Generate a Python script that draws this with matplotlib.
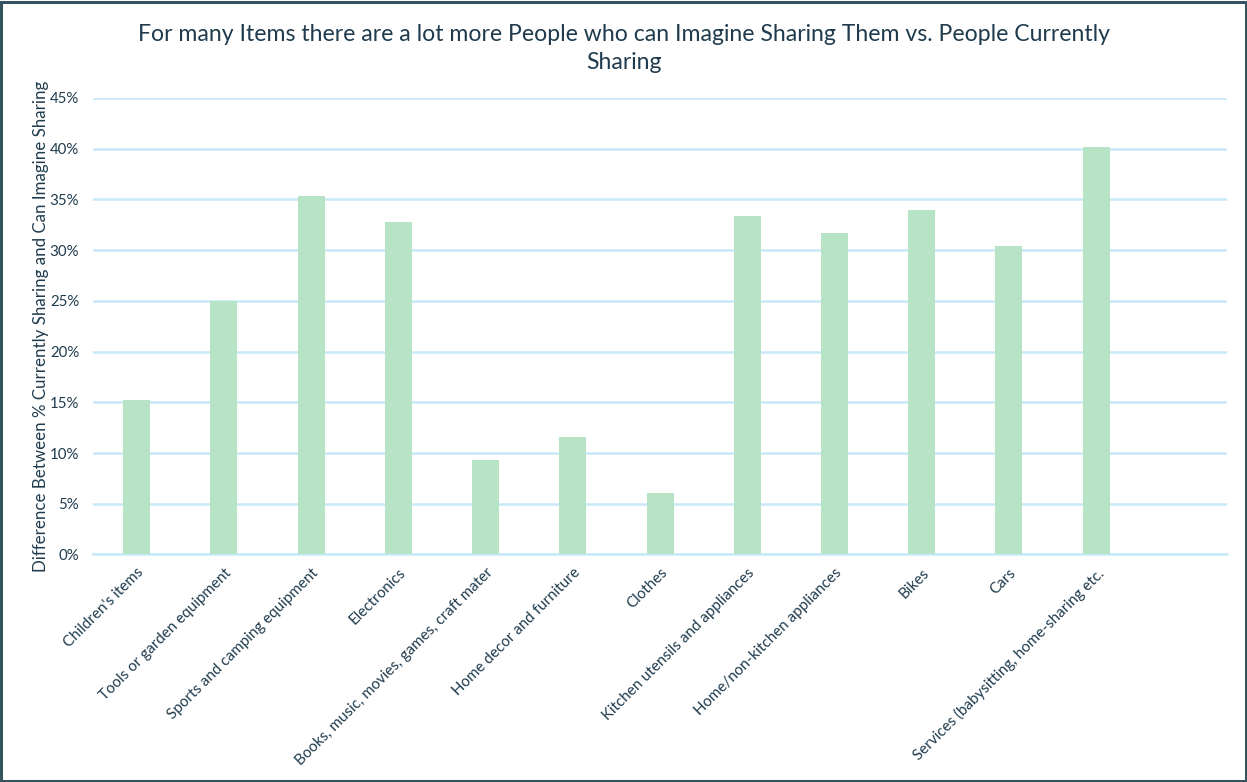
import numpy as np
import matplotlib.pyplot as plt
from matplotlib.patches import Rectangle
from matplotlib.ticker import PercentFormatter

plt.rcParams['font.family'] = ['Lato', 'DejaVu Sans']

# ================================
# DADOS
# ================================
items = [
    "Children's items",
    "Tools or garden equipment",
    "Sports and camping equipment",
    "Electronics",
    "Books, music, movies, games, craft mater",
    "Home decor and furniture",
    "Clothes",
    "Kitchen utensils and appliances",
    "Home/non-kitchen appliances",
    "Bikes",
    "Cars",
    "Services (babysitting, home-sharing etc.",
]
diff = [15.2, 25.0, 35.3, 32.8, 9.3, 11.6, 6.1, 33.4, 31.7, 34.0, 30.4, 40.2]
yticks = [0, 5, 10, 15, 20, 25, 30, 35, 40, 45]

text_col = '#1F3B4D'
bar_col = '#B7E4C7'
grid_col = '#C8EAF6'

fig = plt.figure(figsize=(12.47, 7.82), dpi=100)
ax = fig.add_axes([0.0746, 0.291, 0.9094, 0.5837])

x = np.arange(len(items))
ax.bar(x, diff, width=0.31, color=bar_col, zorder=3)

ax.set_xlim(-0.5, len(items) + 0.5)
ax.set_ylim(0, 45)
ax.set_yticks(yticks)
ax.yaxis.set_major_formatter(PercentFormatter(decimals=0))
ax.grid(axis='y', color=grid_col, linewidth=1.8, zorder=0)
ax.set_axisbelow(True)

ax.set_xticks(x)
ax.set_xticklabels(items, rotation=45, ha='right', rotation_mode='anchor',
                   fontsize=10.9, color=text_col)
ax.tick_params(axis='x', length=0, pad=8)
ax.tick_params(axis='y', length=0, pad=10, labelsize=10.8, labelcolor=text_col)

for s in ['top', 'right', 'left']:
    ax.spines[s].set_visible(False)
ax.spines['bottom'].set_color(grid_col)
ax.spines['bottom'].set_linewidth(1.8)

ax.set_ylabel("Difference Between % Currently Sharing and Can Imagine Sharing",
              fontsize=12.2, color=text_col, labelpad=0.5)

fig.text(0.5, 0.938, "For many Items there are a lot more People who can Imagine Sharing Them vs. People Currently\nSharing",
         ha='center', va='center', fontsize=16.6, color=text_col, linespacing=1.45)

# moldura externa
fig.patches.append(Rectangle((0.001, 0.001), 0.998, 0.997, transform=fig.transFigure,
                             fill=False, edgecolor='#34535F', linewidth=2.2))

fig.savefig('out.png', dpi=100)
